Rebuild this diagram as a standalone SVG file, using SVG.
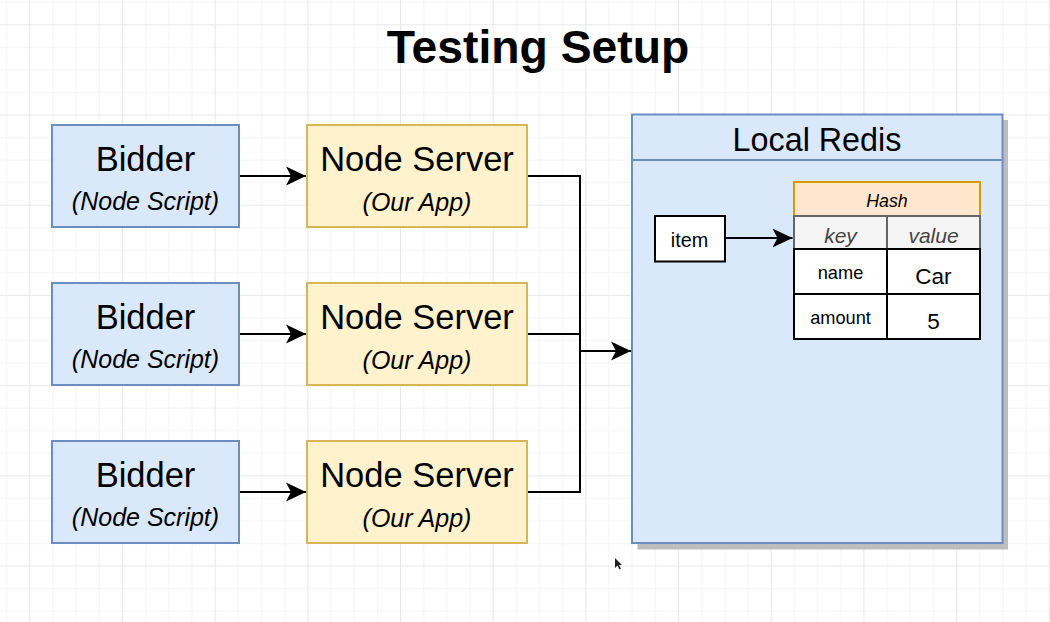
<svg xmlns="http://www.w3.org/2000/svg" width="1050" height="622" viewBox="0 0 1050 622">
<style>
text{font-family:"Liberation Sans",Arial,Helvetica,sans-serif;fill:#000;text-anchor:middle}
.blue{fill:#dae8fc;stroke:#6c8ebf;stroke-width:2}
.yellow{fill:#fff2cc;stroke:#d6b656;stroke-width:2}
.big{font-size:34.5px}
.sub{font-size:25px;font-style:italic}
.edge{fill:none;stroke:#000;stroke-width:2}
.cell{fill:#fff;stroke:#000;stroke-width:2}
</style>
<defs>
<pattern id="grid" patternUnits="userSpaceOnUse" x="29.3" y="24.3" width="92.68" height="90.2">
<rect width="92.68" height="90.2" fill="#fff"/>
<g fill="#f4f4f4">
<rect x="23.17" y="0" width="1" height="90.2"/>
<rect x="46.34" y="0" width="1" height="90.2"/>
<rect x="69.51" y="0" width="1" height="90.2"/>
<rect x="0" y="22.55" width="92.68" height="1"/>
<rect x="0" y="45.1" width="92.68" height="1"/>
<rect x="0" y="67.65" width="92.68" height="1"/>
</g>
<g fill="#e8e8e8">
<rect x="0" y="0" width="1" height="90.2"/>
<rect x="0" y="0" width="92.68" height="1"/>
</g>
</pattern>
<marker id="arr" markerUnits="userSpaceOnUse" markerWidth="22" markerHeight="22" refX="20" refY="10" orient="auto" viewBox="0 0 22 20">
<path d="M0,0.5 L20,10 L0,19.5 L5,10 Z" fill="#000"/>
</marker>
</defs>
<rect width="1050" height="622" fill="url(#grid)"/>
<text x="538" y="62.7" style="font-size:46.3px;font-weight:bold">Testing Setup</text>

<g id="connectors">
<line class="edge" x1="239" y1="176" x2="306" y2="176" marker-end="url(#arr)"/>
<line class="edge" x1="239" y1="334" x2="306" y2="334" marker-end="url(#arr)"/>
<line class="edge" x1="239" y1="492" x2="306" y2="492" marker-end="url(#arr)"/>
<polyline class="edge" points="527,176 580,176 580,492 527,492"/>
<line class="edge" x1="527" y1="334" x2="580" y2="334"/>
<line class="edge" x1="580" y1="351" x2="631" y2="351" marker-end="url(#arr)"/>
</g>

<g id="bidder1"><rect class="blue" x="52" y="125" width="187" height="102"/><text class="big" x="145.5" y="170.5">Bidder</text><text class="sub" x="145.5" y="210">(Node Script)</text></g>
<g id="bidder2"><rect class="blue" x="52" y="283" width="187" height="102"/><text class="big" x="145.5" y="328.5">Bidder</text><text class="sub" x="145.5" y="368">(Node Script)</text></g>
<g id="bidder3"><rect class="blue" x="52" y="441" width="187" height="102"/><text class="big" x="145.5" y="486.5">Bidder</text><text class="sub" x="145.5" y="526">(Node Script)</text></g>

<g id="server1"><rect class="yellow" x="307" y="125" width="220" height="102"/><text class="big" x="417" y="170.7">Node Server</text><text class="sub" x="417" y="211">(Our App)</text></g>
<g id="server2"><rect class="yellow" x="307" y="283" width="220" height="102"/><text class="big" x="417" y="328.7">Node Server</text><text class="sub" x="417" y="369">(Our App)</text></g>
<g id="server3"><rect class="yellow" x="307" y="441" width="220" height="102"/><text class="big" x="417" y="486.7">Node Server</text><text class="sub" x="417" y="527">(Our App)</text></g>

<g id="redis">
<rect x="637.5" y="120" width="370.5" height="429.5" fill="#bdbdbd"/>
<rect class="blue" x="632" y="114.5" width="370.5" height="428.5"/>
<line x1="632" y1="160" x2="1002.5" y2="160" stroke="#6c8ebf" stroke-width="2"/>
<text x="817" y="150.7" style="font-size:32.3px">Local Redis</text>
</g>

<g id="item">
<rect class="cell" x="655" y="216" width="70" height="45.5"/>
<text x="689.5" y="246.7" style="font-size:19.8px">item</text>
</g>
<line class="edge" x1="725" y1="238" x2="792.5" y2="238" marker-end="url(#arr)"/>

<g id="hash">
<rect x="794" y="182" width="186" height="34" fill="#ffe6cc" stroke="#d79b00" stroke-width="2"/>
<text x="887" y="207" style="font-size:17.8px;font-style:italic">Hash</text>
<rect x="794" y="216" width="186" height="33" fill="#f5f5f5" stroke="#666" stroke-width="2"/>
<line x1="887" y1="216" x2="887" y2="249" stroke="#666" stroke-width="2"/>
<text x="840.5" y="243" style="font-size:21px;font-style:italic;fill:#444">key</text>
<text x="933.5" y="243" style="font-size:21px;font-style:italic;fill:#444">value</text>
<rect class="cell" x="794" y="249" width="93" height="45"/>
<rect class="cell" x="887" y="249" width="93" height="45"/>
<rect class="cell" x="794" y="294" width="93" height="45"/>
<rect class="cell" x="887" y="294" width="93" height="45"/>
<text x="840.5" y="279" style="font-size:18.2px">name</text>
<text x="933.5" y="283.5" style="font-size:22.5px">Car</text>
<text x="840.5" y="324" style="font-size:18.2px">amount</text>
<text x="933.5" y="328.5" style="font-size:22.5px">5</text>
</g>

<path d="M615,558 L615,568 L617.5,565.5 L619.5,569.5 L621,568.8 L619,565 L622,565 Z" fill="#222"/>
</svg>
